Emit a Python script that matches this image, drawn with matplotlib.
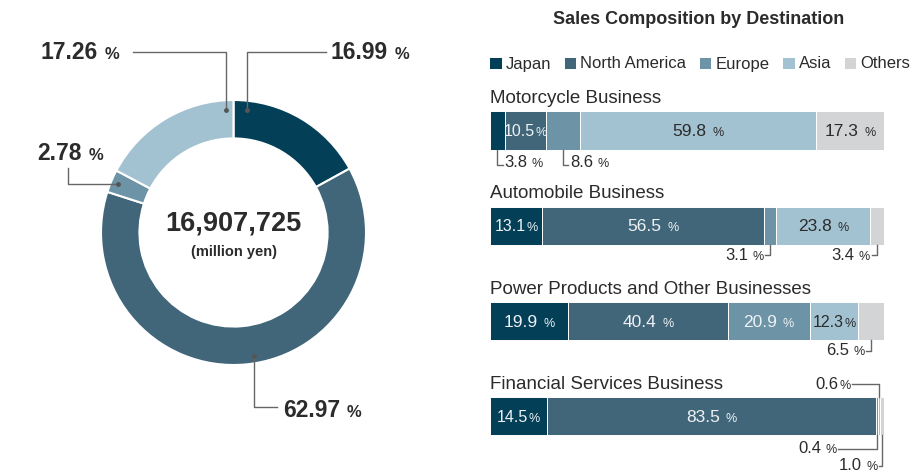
import numpy as np
import matplotlib
matplotlib.use('Agg')
import matplotlib.pyplot as plt
from matplotlib.offsetbox import TextArea, HPacker, AnnotationBbox

plt.rcParams['font.family'] = ['Liberation Sans', 'DejaVu Sans']

# data
regions = ['Japan', 'North America', 'Europe', 'Asia', 'Others']
colors = ['#033f57', '#41667a', '#6d93a6', '#a3c2d1', '#d3d4d5']

total_sales = '16,907,725'
donut_labels = ['16.99', '62.97', '2.78', '17.26']
donut_share = [16.99, 62.97, 2.78, 17.26]  # Japan, North America, Europe, Asia

businesses = ['Motorcycle Business', 'Automobile Business',
              'Power Products and Other Businesses', 'Financial Services Business']
motorcycle = [3.8, 10.5, 8.6, 59.8, 17.3]
automobile = [13.1, 56.5, 3.1, 23.8, 3.4]
power_products = [19.9, 40.4, 20.9, 12.3, 6.5]
financial = [14.5, 83.5, 0.4, 0.6, 1.0]

TXT = '#2b2b2b'
LIGHT = '#eef2f5'
LINE = '#666666'


def pct_label(ax, x, y, number, size, color, align=(0.5, 0.5), weight='normal',
              sep=3, pct_size=None):
    pct_size = pct_size or size * 0.72
    box = HPacker(children=[TextArea(number, textprops=dict(size=size, color=color, weight=weight)),
                            TextArea('%', textprops=dict(size=pct_size, color=color, weight=weight))],
                  align='baseline', pad=0, sep=sep)
    ab = AnnotationBbox(box, (x, y), xycoords='data', box_alignment=align,
                        frameon=False, pad=0, annotation_clip=False)
    ax.add_artist(ab)


fig = plt.figure(figsize=(9.19, 4.74), dpi=100)

# ---- donut ----
axp = fig.add_axes([101 / 919, 109 / 474, 265 / 919, 265 / 474])
axp.pie(donut_share, colors=colors[:4], startangle=90, counterclock=False, radius=1,
        wedgeprops=dict(width=0.29, edgecolor='white', linewidth=1.5))
axp.set_xlim(-1, 1)
axp.set_ylim(-1, 1)
axp.set_aspect('equal')
axp.axis('off')

axp.text(0, 0.07, total_sales, ha='center', va='center', size=19.5, weight='bold', color=TXT)
axp.text(0, -0.15, '(million yen)', ha='center', va='center', size=10.5, weight='bold', color=TXT)

# leader lines (pie axes units), label anchor, alignment
donut_callouts = [
    ([(0.102, 0.925), (0.102, 1.362), (0.70, 1.362)], (0.73, 1.362), (0, 0.5)),
    ([(0.155, -0.932), (0.155, -1.317), (0.328, -1.317)], (0.374, -1.34), (0, 0.5)),
    ([(-0.872, 0.366), (-1.249, 0.366), (-1.249, 0.487)], (-1.48, 0.60), (0, 0.5)),
    ([(-0.057, 0.925), (-0.057, 1.362), (-0.758, 1.362)], (-0.86, 1.362), (1, 0.5)),
]
for lbl, (pts, txy, al) in zip(donut_labels, donut_callouts):
    xs, ys = zip(*pts)
    axp.plot(xs, ys, color=LINE, lw=1, clip_on=False)
    axp.plot(xs[0], ys[0], 'o', color='#555555', ms=2.5, clip_on=False)
    pct_label(axp, txy[0], txy[1], lbl, 16.5, TXT, align=al, weight='bold', sep=5, pct_size=12)

# ---- stacked bars ----
ax = fig.add_axes([490 / 919, 0, 394 / 919, 1])
data = np.array([motorcycle, automobile, power_products, financial])
rows = np.arange(len(businesses))
lefts = np.cumsum(data, axis=1) - data
for j, region in enumerate(regions):
    ax.barh(rows, data[:, j], left=lefts[:, j], height=0.4, color=colors[j],
            edgecolor='white', linewidth=0.7, label=region)
ax.set_xlim(0, 100)
ax.set_ylim(3.604, -1.369)
ax.axis('off')

for i, name in enumerate(businesses):
    ax.text(0, i - 0.335, name, ha='left', va='center', size=13.5, color=TXT)

# label placement: 'in' inside bar, or callout (y offset, x of text end, ha, sep)
tight = {(0, 1), (1, 0), (2, 3), (3, 0)}
callouts = {
    (0, 0): (0.36, 1.3, 'left', 3),
    (0, 2): (0.36, 1.3, 'left', 3),
    (1, 2): (0.31, -1.3, 'right', 3),
    (1, 4): (0.31, -1.3, 'right', 3),
    (2, 4): (0.31, -1.3, 'right', 3),
    (3, 2): (0.34, -9.9, 'right', 3),
    (3, 3): (-0.34, -6.8, 'right', 0.5),
    (3, 4): (0.52, -0.8, 'right', 3),
}
for i in rows:
    for j in range(len(regions)):
        v = data[i, j]
        mid = lefts[i, j] + v / 2
        txt = f'{v:.1f}'
        if (i, j) in callouts:
            dy, dx, ha, sep = callouts[(i, j)]
            edge = i + (0.2 if dy > 0 else -0.2)
            ax.plot([mid, mid, mid + dx], [edge, i + dy, i + dy], color=LINE, lw=1, clip_on=False)
            if ha == 'left':
                pct_label(ax, mid + dx + 0.4, i + dy - 0.02, txt, 12, TXT, align=(0, 0.5), sep=sep, pct_size=9)
            else:
                pct_label(ax, mid + dx - 0.4, i + dy + 0.0, txt, 12, TXT, align=(1, 0.5), sep=sep, pct_size=9)
        else:
            col = LIGHT if j < 3 else TXT
            if (i, j) in tight:
                pct_label(ax, mid, i + 0.01, txt, 11.5, col, sep=0.5, pct_size=9)
            else:
                pct_label(ax, mid, i + 0.01, txt, 12.5, col, sep=4, pct_size=9)

fig.text(699 / 919, 1 - 20 / 474, 'Sales Composition by Destination', ha='center', va='center',
         size=13, weight='bold', color=TXT)
fig.legend(loc='center left', bbox_to_anchor=(489 / 919, 1 - 64 / 474), ncol=5, frameon=False,
           handlelength=0.75, handleheight=0.75, handletextpad=0.25, columnspacing=0.75,
           fontsize=12, borderpad=0, borderaxespad=0, labelcolor=TXT)

fig.savefig('out.png', dpi=100)
